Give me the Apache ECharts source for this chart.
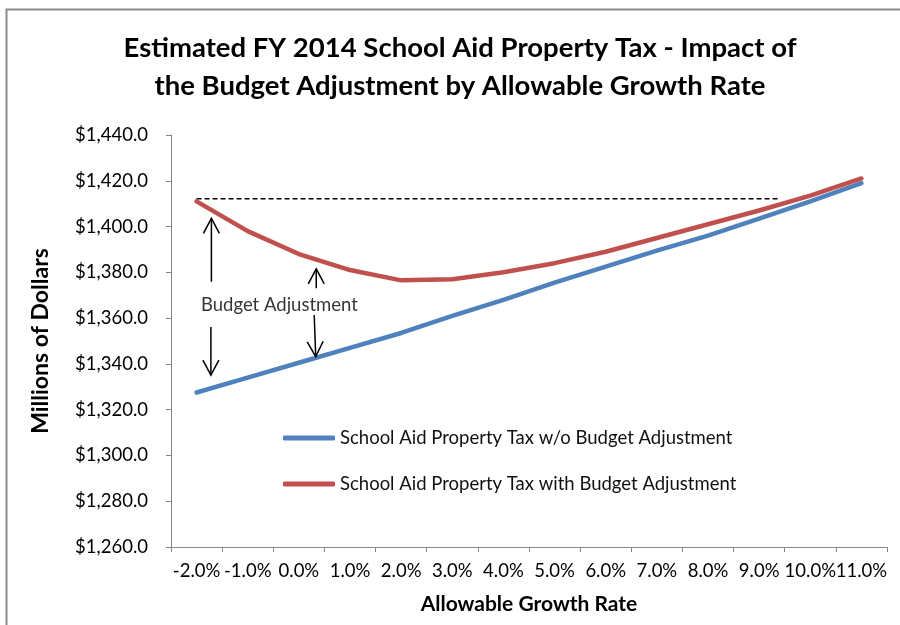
<!DOCTYPE html>
<html>
<head>
<meta charset="utf-8">
<title>Estimated FY 2014 School Aid Property Tax</title>
<script src="https://cdn.jsdelivr.net/npm/echarts@6/dist/echarts.min.js"></script>
<style>
  html, body { margin: 0; padding: 0; background: #fff; }
  #chart { width: 900px; height: 625px; }
</style>
</head>
<body>
<div id="chart"></div>
<script>
// Allowable growth rates (x categories)
const growthRates = ['-2.0%', '-1.0%', '0.0%', '1.0%', '2.0%', '3.0%', '4.0%', '5.0%', '6.0%', '7.0%', '8.0%', '9.0%', '10.0%', '11.0%'];

// Property tax, millions of dollars
const withoutAdjustment = [1327.5, 1334, 1340.5, 1347, 1353.5, 1361, 1368, 1375.5, 1382.5, 1389.5, 1396, 1403.5, 1411, 1419];
const withAdjustment = [1411, 1398, 1388, 1381, 1376.5, 1377, 1380, 1384, 1389, 1395, 1401, 1407, 1413.5, 1421];

const seriesNames = ['School Aid Property Tax w/o Budget Adjustment', 'School Aid Property Tax with Budget Adjustment'];

// Reference level (dashed) and its extent in growth-rate units
const refLevel = 1412.2;
const refExtent = [-2, 9.4];

// Annotation arrows: [xFrom, yFrom, xTo, yTo] in growth-rate % / millions
const arrows = [
  [-1.71, 1375.9, -1.71, 1403.6],
  [-1.72, 1356.1, -1.72, 1335.1],
  [0.34, 1373.0, 0.34, 1381.5],
  [0.30, 1361.4, 0.33, 1343.2]
];
const arrowLabel = { x: -0.38, y: 1365.7, text: 'Budget Adjustment' };

const yTicks = { min: 1260, max: 1440, interval: 20 };

const FONT = 'Lato';

function fmtDollar(v) {
  const s = Math.round(v).toString().replace(/\B(?=(\d{3})+(?!\d))/g, ',');
  return '$' + s + '.0';
}

const chart = echarts.init(document.getElementById('chart'), null, { renderer: 'canvas' });

const option = {
  backgroundColor: '#fff',
  animation: false,
  textStyle: { fontFamily: FONT },
  graphic: [
    {
      type: 'rect', silent: true, z: -1,
      shape: { x: 6.5, y: 9.5, width: 920, height: 640 },
      style: { fill: 'none', stroke: '#8a8a8a', lineWidth: 2 }
    },
    {
      type: 'text', silent: true,
      x: 460, y: 29,
      style: {
        text: 'Estimated FY 2014 School Aid Property Tax - Impact of\nthe Budget Adjustment by Allowable Growth Rate',
        font: 'bold 27.5px ' + FONT,
        fill: '#000',
        textAlign: 'center',
        textVerticalAlign: 'top',
        lineHeight: 38
      }
    }
  ],
  grid: { left: 171, top: 135, width: 716, height: 412, containLabel: false },
  legend: {
    orient: 'vertical',
    left: 283,
    top: 428.5,
    padding: 0,
    itemWidth: 52,
    itemHeight: 5,
    itemGap: 27,
    icon: 'roundRect',
    data: seriesNames,
    textStyle: { fontFamily: FONT, fontSize: 18.5, color: '#111' }
  },
  xAxis: [
    {
      type: 'category',
      data: growthRates,
      boundaryGap: true,
      name: 'Allowable Growth Rate',
      nameLocation: 'middle',
      nameGap: 47,
      nameTextStyle: { fontFamily: FONT, fontSize: 21, fontWeight: 'bold', color: '#000' },
      axisLine: { lineStyle: { color: '#868686', width: 1 } },
      axisTick: { show: true, interval: 0, alignWithLabel: false, length: 5, lineStyle: { color: '#868686' } },
      axisLabel: { interval: 0, margin: 15, fontSize: 18.5, color: '#000', fontFamily: FONT }
    },
    {
      type: 'value', min: -2.5, max: 11.5, show: false
    }
  ],
  yAxis: {
    type: 'value',
    min: yTicks.min, max: yTicks.max, interval: yTicks.interval,
    name: 'Millions of Dollars',
    nameLocation: 'middle',
    nameGap: 119,
    nameRotate: 90,
    nameTextStyle: { fontFamily: FONT, fontSize: 23, fontWeight: 'bold', color: '#000' },
    axisLine: { show: true, onZero: false, lineStyle: { color: '#868686', width: 1 } },
    axisTick: { show: true, length: 5, lineStyle: { color: '#868686' } },
    splitLine: { show: false },
    axisLabel: { margin: 23, fontSize: 18.5, color: '#000', fontFamily: FONT, formatter: fmtDollar }
  },
  series: [
    {
      name: seriesNames[0],
      type: 'line',
      data: withoutAdjustment,
      symbol: 'none',
      color: '#4F81BD',
      lineStyle: { width: 4.5, color: '#4F81BD', cap: 'round', join: 'round' },
      z: 3
    },
    {
      name: seriesNames[1],
      type: 'line',
      data: withAdjustment,
      symbol: 'none',
      color: '#C0504D',
      lineStyle: { width: 4.5, color: '#C0504D', cap: 'round', join: 'round' },
      z: 4
    },
    {
      name: 'ref',
      type: 'line',
      xAxisIndex: 1,
      data: [[refExtent[0], refLevel], [refExtent[1], refLevel]],
      symbol: 'none',
      silent: true,
      lineStyle: { width: 1.5, color: '#000', type: [5, 3] },
      z: 2
    },
    {
      name: 'arrows',
      type: 'custom',
      xAxisIndex: 1,
      silent: true,
      data: arrows,
      renderItem: function (params, api) {
        const p0 = api.coord([api.value(0), api.value(1)]);
        const p1 = api.coord([api.value(2), api.value(3)]);
        const dx = p1[0] - p0[0], dy = p1[1] - p0[1];
        const len = Math.sqrt(dx * dx + dy * dy) || 1;
        const ux = dx / len, uy = dy / len;
        const hl = 15, hw = 8;
        const bx = p1[0] - ux * hl, by = p1[1] - uy * hl;
        const a1 = [bx - uy * hw, by + ux * hw];
        const a2 = [bx + uy * hw, by - ux * hw];
        const st = { stroke: '#000', lineWidth: 1.5, fill: 'none' };
        return {
          type: 'group',
          children: [
            { type: 'line', shape: { x1: p0[0], y1: p0[1], x2: p1[0], y2: p1[1] }, style: st },
            { type: 'polyline', shape: { points: [a1, p1, a2] }, style: st }
          ]
        };
      },
      z: 5
    },
    {
      name: 'arrowLabel',
      type: 'scatter',
      xAxisIndex: 1,
      silent: true,
      symbolSize: 0,
      data: [[arrowLabel.x, arrowLabel.y]],
      label: {
        show: true, position: 'inside', formatter: arrowLabel.text,
        fontFamily: FONT, fontSize: 18.5, color: '#000'
      },
      z: 5
    }
  ]
};

chart.setOption(option);
</script>
</body>
</html>
